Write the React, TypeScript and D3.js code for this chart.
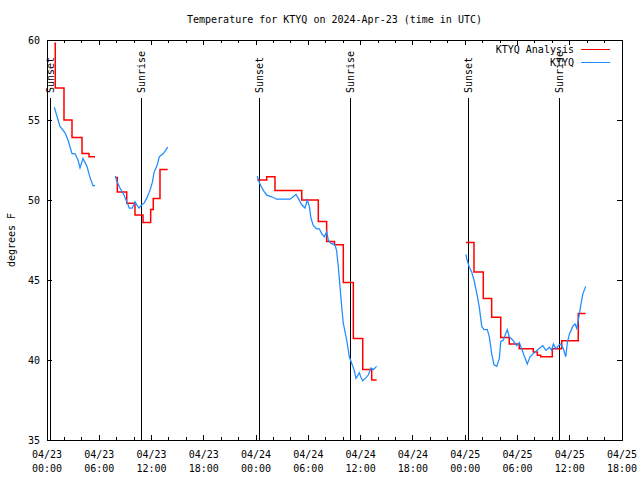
import React from "react";
import * as d3 from "d3";

const START = Date.UTC(2024, 3, 23, 0, 0);
const END = Date.UTC(2024, 3, 25, 18, 0);
const toDate = (h: number) => new Date(START + h * 3600000);

const titleText = "Temperature for KTYQ on 2024-Apr-23 (time in UTC)";
const yLabelText = "degrees F";
const seriesNames = ["KTYQ Analysis", "KTYQ"];
const seriesColors = ["#ff0000", "#1e8cff"];

// [hours since 04/23 00:00 UTC, degrees F]
const analysisSeg1: [number, number][] = [
  [0.84, 59.8], [0.95, 57.0], [1.95, 55.0], [2.87, 53.9], [4.02, 52.9], [4.82, 52.7], [5.51, 52.7],
];
const analysisSeg2: [number, number][] = [
  [7.92, 51.4], [8.07, 50.5], [9.15, 49.8], [10.1, 49.06], [11.02, 48.6], [11.9, 49.4],
  [12.2, 50.1], [12.97, 51.9], [13.85, 51.9],
];
const analysisSeg3: [number, number][] = [
  [24.14, 51.25], [25.22, 51.46], [26.17, 50.6], [29.24, 50.0], [31.14, 48.65], [32.1, 47.4],
  [33.0, 47.2], [34.01, 44.85], [35.16, 41.35], [36.24, 39.4], [37.27, 38.75], [37.84, 38.75],
];
const analysisSeg4: [number, number][] = [
  [48.09, 47.35], [49.01, 45.5], [50.08, 43.85], [51.04, 42.67], [52.08, 41.4], [53.06, 41.0],
  [54.21, 40.7], [55.82, 40.5], [56.28, 40.3], [56.67, 40.2], [58.0, 40.7], [59.08, 41.2],
  [60.98, 42.9], [61.83, 42.9],
];

const observedSeg1: [number, number][] = [
  [0.84, 55.8], [1.49, 54.6], [2.07, 54.2], [2.41, 53.75], [2.87, 52.9], [3.21, 52.9], [3.56, 52.5],
  [3.79, 52.0], [4.13, 52.6], [4.59, 52.1], [4.94, 51.4], [5.28, 50.9], [5.51, 50.9],
];
const observedSeg2: [number, number][] = [
  [7.84, 51.5], [8.07, 51.1], [8.38, 50.75], [8.76, 50.4], [9.15, 49.9], [9.45, 49.5], [9.79, 49.5],
  [10.1, 49.9], [10.3, 49.7], [10.56, 49.5], [10.87, 49.7], [11.13, 49.8], [11.44, 50.1],
  [11.82, 50.6], [12.09, 51.1], [12.28, 51.7], [12.66, 52.2], [12.89, 52.7], [13.35, 52.9],
  [13.62, 53.1], [13.85, 53.3],
];
const observedSeg3: [number, number][] = [
  [24.14, 51.5], [24.25, 51.25], [24.53, 50.9], [24.83, 50.6], [25.22, 50.3], [25.79, 50.2],
  [26.37, 50.05], [27.89, 50.05], [28.27, 50.2], [28.58, 50.35], [28.85, 50.1], [29.24, 49.7],
  [29.61, 49.5], [29.88, 50.0], [30.11, 49.6], [30.3, 48.86], [30.57, 48.4], [30.96, 48.2],
  [31.26, 48.2], [31.53, 47.9], [31.83, 47.7], [32.1, 48.0], [32.29, 47.5], [32.56, 47.3],
  [33.06, 47.2], [33.25, 46.8], [33.44, 45.8], [33.63, 44.6], [33.83, 43.3], [34.01, 42.3],
  [34.4, 41.25], [34.7, 40.2], [34.97, 39.8], [35.24, 39.4], [35.47, 38.85], [35.85, 39.2],
  [36.01, 38.95], [36.24, 38.7], [36.62, 38.9], [36.88, 39.06], [37.19, 39.5], [37.45, 39.4],
  [37.84, 39.6],
];
const observedSeg4: [number, number][] = [
  [48.09, 46.6], [48.17, 46.35], [48.47, 45.8], [48.75, 45.5], [49.01, 45.0], [49.32, 44.2],
  [49.62, 43.3], [49.9, 42.1], [50.16, 41.9], [50.54, 41.9], [50.77, 41.45], [51.04, 40.4],
  [51.31, 39.7], [51.62, 39.6], [51.92, 40.1], [52.08, 41.15], [52.38, 41.25], [52.69, 41.7],
  [52.84, 41.9], [53.06, 41.45], [53.45, 41.25], [53.91, 40.9], [54.21, 41.1], [54.48, 40.7],
  [54.75, 40.3], [55.13, 39.75], [55.44, 40.2], [55.82, 40.4], [56.39, 40.67], [56.9, 40.9],
  [57.28, 40.6], [57.66, 40.8], [57.93, 40.6], [58.12, 41.0], [58.43, 40.7], [58.69, 40.9],
  [58.97, 41.0], [59.27, 40.7], [59.54, 40.2], [59.72, 41.04], [59.95, 41.6], [60.34, 42.1],
  [60.61, 42.25], [60.8, 41.98], [61.07, 42.75], [61.26, 43.4], [61.49, 44.1], [61.83, 44.6],
];

const analysisSegments = [analysisSeg1, analysisSeg2, analysisSeg3, analysisSeg4];
const observedSegments = [observedSeg1, observedSeg2, observedSeg3, observedSeg4];

const sunHours = [0.34, 10.79, 24.33, 34.78, 48.32, 58.77];
const sunLabels = ["Sunset", "Sunrise", "Sunset", "Sunrise", "Sunset", "Sunrise"];

const xMajorHours = [0, 6, 12, 18, 24, 30, 36, 42, 48, 54, 60, 66];
const xMinorHours = d3.range(0, 67, 2);
const yTicks = [35, 40, 45, 50, 55, 60];

const FONT = "'DejaVu Sans Mono', 'Liberation Mono', monospace";

export default function App() {
  const left = 47, right = 622, top = 40, bottom = 440;
  const x = d3.scaleUtc().domain([new Date(START), new Date(END)]).range([left, right]);
  const y = d3.scaleLinear().domain([35, 60]).range([bottom, top]);
  const fmtD = d3.utcFormat("%m/%d");
  const fmtT = d3.utcFormat("%H:%M");

  const stepLine = d3
    .line<[number, number]>()
    .x((d) => x(toDate(d[0])))
    .y((d) => y(d[1]))
    .curve(d3.curveStepAfter);
  const plainLine = d3
    .line<[number, number]>()
    .x((d) => x(toDate(d[0])))
    .y((d) => y(d[1]));

  return (
    <svg
      width={640}
      height={480}
      style={{ position: "absolute", left: 0, top: 0, background: "#fff" }}
      fontFamily={FONT}
      fontSize={10}
    >
      <rect x={0} y={0} width={640} height={480} fill="#fff" />
      <text x={(left + right) / 2} y={23} textAnchor="middle" fill="#000">
        {titleText}
      </text>
      <text
        transform={`translate(11,${(top + bottom) / 2}) rotate(-90)`}
        textAnchor="middle"
        dy="0.35em"
        fill="#000"
      >
        {yLabelText}
      </text>

      <g shapeRendering="crispEdges" stroke="#000" strokeWidth={1}>
        {yTicks.map((t) => (
          <g key={"yt" + t}>
            <line x1={left} x2={left + 5} y1={y(t)} y2={y(t)} />
            <line x1={right} x2={right - 5} y1={y(t)} y2={y(t)} />
          </g>
        ))}
        {xMinorHours.map((h) => {
          const major = h % 6 === 0;
          const len = major ? 5 : 3;
          const xx = x(toDate(h));
          return (
            <g key={"xt" + h}>
              <line x1={xx} x2={xx} y1={bottom} y2={bottom - len} />
              <line x1={xx} x2={xx} y1={top} y2={top + len} />
            </g>
          );
        })}
      </g>

      {yTicks.map((t) => (
        <text key={"yl" + t} x={40} y={y(t)} dy="0.35em" textAnchor="end" fill="#000">
          {t}
        </text>
      ))}
      {xMajorHours.map((h) => {
        const d = toDate(h);
        const xx = x(d);
        return (
          <g key={"xl" + h}>
            <text x={xx} y={458} textAnchor="middle" fill="#000">
              {fmtD(d)}
            </text>
            <text x={xx} y={472} textAnchor="middle" fill="#000">
              {fmtT(d)}
            </text>
          </g>
        );
      })}

      {sunHours.map((h, i) => {
        const xx = Math.round(x(toDate(h)));
        return (
          <g key={"sun" + i}>
            <line
              x1={xx + 0.5}
              x2={xx + 0.5}
              y1={98}
              y2={bottom}
              stroke="#000"
              strokeWidth={1}
              shapeRendering="crispEdges"
            />
            <text
              transform={`translate(${xx + 0.5},93) rotate(-90)`}
              dy="0.35em"
              textAnchor="start"
              fill="#000"
            >
              {sunLabels[i]}
            </text>
          </g>
        );
      })}

      <g fill="none">
        {analysisSegments.map((seg, i) => (
          <path key={"a" + i} d={stepLine(seg) || ""} stroke={seriesColors[0]} strokeWidth={1.5} />
        ))}
        {observedSegments.map((seg, i) => (
          <path key={"o" + i} d={plainLine(seg) || ""} stroke={seriesColors[1]} strokeWidth={1.25} />
        ))}
      </g>

      {seriesNames.map((name, i) => (
        <g key={"lg" + i}>
          <text x={574} y={49 + i * 13} dy="0.35em" textAnchor="end" fill="#000">
            {name}
          </text>
          <line
            x1={581}
            x2={610}
            y1={49 + i * 13 + 0.5}
            y2={49 + i * 13 + 0.5}
            stroke={seriesColors[i]}
            strokeWidth={1.5}
            shapeRendering="crispEdges"
          />
        </g>
      ))}

      <rect
        x={left + 0.5}
        y={top + 0.5}
        width={right - left}
        height={bottom - top}
        fill="none"
        stroke="#000"
        strokeWidth={1}
        shapeRendering="crispEdges"
      />
    </svg>
  );
}
